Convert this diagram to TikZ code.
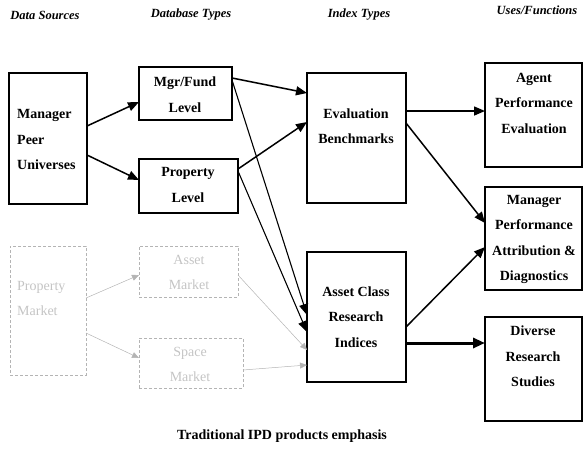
\documentclass[tikz,border=0pt]{standalone}
\usepackage{fontspec}
\setmainfont{Liberation Serif}
\usetikzlibrary{arrows.meta}
\definecolor{ghost}{HTML}{B4B4B4}
\definecolor{ghosttext}{HTML}{C4C4C4}
\tikzset{
  box/.style={draw=black, line width=1.6pt, inner sep=0pt, outer sep=0pt, anchor=north west},
  gbox/.style={draw=ghost, line width=0.8pt, dash pattern=on 3pt off 2pt, inner sep=0pt, outer sep=0pt, anchor=north west},
  txt/.style={font=\bfseries\fontsize{14}{25.5}\selectfont, align=center, inner sep=0pt},
  gtxt/.style={font=\fontsize{14}{25.5}\selectfont, align=center, inner sep=0pt, text=ghosttext},
  head/.style={font=\bfseries\itshape\fontsize{12.5}{14}\selectfont, inner sep=0pt},
  arr/.style={line width=1.5pt, -{Triangle[length=11pt,width=9pt]}},
  thin/.style={line width=1.1pt, -{Triangle[length=11pt,width=9pt]}},
  fat/.style={line width=3pt, -{Triangle[length=12pt,width=10pt]}},
  garr/.style={draw=ghost!80, line width=0.5pt, -{Triangle[length=7pt,width=6pt]}, ghost},
}
\begin{document}
\begin{tikzpicture}[x=1pt,y=-1pt]
\useasboundingbox (0,0) rectangle (583,448);
% headers
\node[head] (h1) at (45,15) {Data Sources};
\node[head] (h2) at (191,15) {Database Types};
\node[head] (h3) at (359,15) {Index Types};
\node[head] (h4) at (537,10) {Uses/Functions};
% boxes
\node[box, minimum width=78pt, minimum height=131pt] (mpu) at (9,73) {};
\node[box, minimum width=93pt, minimum height=53pt] (mf) at (139,67) {};
\node[box, minimum width=99pt, minimum height=54pt] (pl) at (139,159) {};
\node[box, minimum width=99pt, minimum height=130pt] (eb) at (307,73) {};
\node[box, minimum width=97pt, minimum height=104pt] (ape) at (485,63) {};
\node[box, minimum width=97pt, minimum height=103pt] (mpad) at (485,187) {};
\node[box, minimum width=99pt, minimum height=130pt] (acri) at (307,252) {};
\node[box, minimum width=97pt, minimum height=104pt] (drs) at (485,317) {};
\node[gbox, minimum width=76pt, minimum height=129pt] (pm) at (10,246) {};
\node[gbox, minimum width=99pt, minimum height=51pt] (am) at (139,246) {};
\node[gbox, minimum width=104pt, minimum height=50pt] (sm) at (139,338) {};
% texts
\node[txt, align=left, anchor=west] (mpu-t) at (17,139.5) {Manager\\Peer\\Universes};
\node[txt] (mf-t) at (185,94.5) {Mgr/Fund\\Level};
\node[txt] (pl-t) at (188,185) {Property\\Level};
\node[txt] (eb-t) at (356,126) {Evaluation\\Benchmarks};
\node[txt] (ape-t) at (534,103) {Agent\\Performance\\Evaluation};
\node[txt] (mpad-t) at (534,239.5) {Manager\\Performance\\Attribution \&\\Diagnostics};
\node[txt] (acri-t) at (356,317) {Asset Class\\Research\\Indices};
\node[txt] (drs-t) at (533,356.5) {Diverse\\Research\\Studies};
\node[gtxt, align=left, anchor=west] (pm-t) at (17,298.5) {Property\\Market};
\node[gtxt] (am-t) at (189,272.5) {Asset\\Market};
\node[gtxt] (sm-t) at (190,364.5) {Space\\Market};
\node[txt] (cap) at (282,436) {Traditional IPD products emphasis};
% connectors
\draw[arr] (mpu.east |- 0,126) -- (mf.west |- 0,102);
\draw[arr] (mpu.east |- 0,155) -- (pl.west |- 0,180);
\draw[arr] (mf.east |- 0,78) -- (eb.west |- 0,93);
\draw[arr] (pl.east |- 0,169) -- (eb.west |- 0,122);
\draw[thin] (mf.east |- 0,80) -- (acri.west |- 0,315);
\draw[thin] (pl.east |- 0,171) -- (acri.west |- 0,332);
\draw[arr] (eb.east |- 0,111) -- (ape.west |- 0,111);
\draw[arr] (eb.east |- 0,123) -- (mpad.west |- 0,223);
\draw[arr] (acri.east |- 0,327) -- (mpad.west |- 0,247);
\draw[fat] (acri.east |- 0,343) -- (drs.west |- 0,343);
\draw[garr] (pm.east |- 0,298) -- (am.west |- 0,275);
\draw[garr] (pm.east |- 0,333) -- (sm.west |- 0,358);
\draw[garr] (am.east |- 0,275) -- (acri.west |- 0,350);
\draw[garr] (sm.east |- 0,370) -- (acri.west |- 0,365);
\end{tikzpicture}
\end{document}
